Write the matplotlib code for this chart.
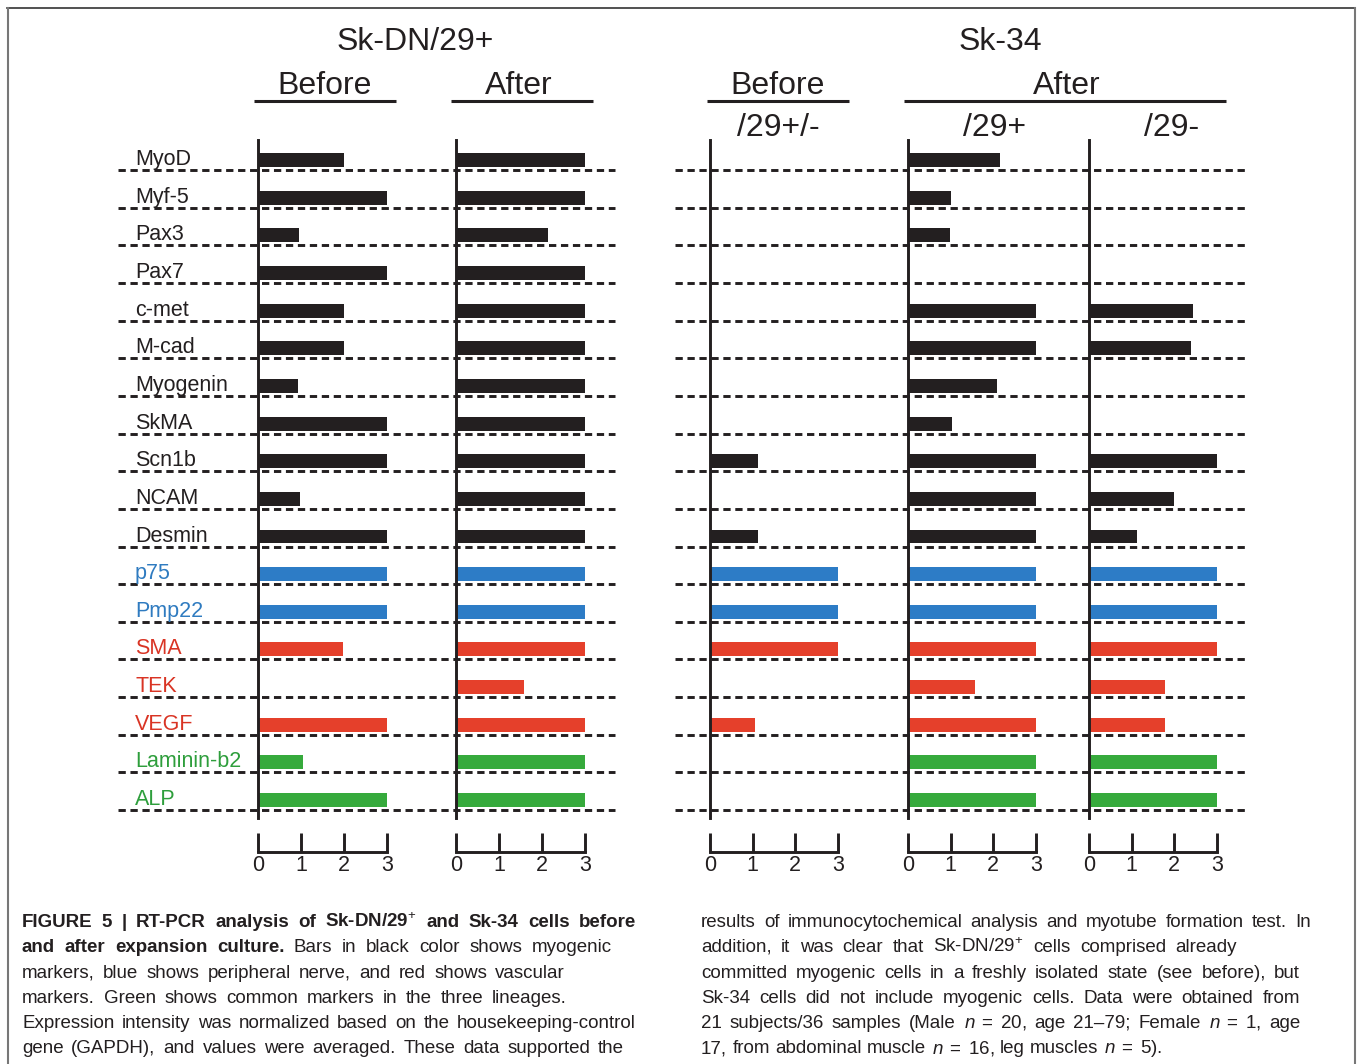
import matplotlib
matplotlib.use("Agg")
import matplotlib.pyplot as plt
from matplotlib import font_manager

W, H = 1357, 1064

plt.rcParams["font.family"] = "Liberation Sans"
plt.rcParams["mathtext.fontset"] = "custom"
plt.rcParams["mathtext.rm"] = "Liberation Sans"
plt.rcParams["mathtext.it"] = "Liberation Sans:italic"
plt.rcParams["mathtext.bf"] = "Liberation Sans:bold"

# --- data ---
markers = ["MyoD", "Myf-5", "Pax3", "Pax7", "c-met", "M-cad", "Myogenin", "SkMA",
           "Scn1b", "NCAM", "Desmin", "p75", "Pmp22", "SMA", "TEK", "VEGF",
           "Laminin-b2", "ALP"]
lineage = ["myo", "myo", "myo", "myo", "myo", "myo", "myo", "myo", "myo", "myo", "myo",
           "nerve", "nerve", "vasc", "vasc", "vasc", "common", "common"]

skdn_before = [2.0, 3.0, 0.95, 3.0, 2.0, 2.0, 0.93, 3.0, 3.0, 0.97, 3.0, 3.0, 3.0, 1.98, 0, 3.0, 1.05, 3.0]
skdn_after = [3.0, 3.0, 2.15, 3.0, 3.0, 3.0, 3.0, 3.0, 3.0, 3.0, 3.0, 3.0, 3.0, 3.0, 1.58, 3.0, 3.0, 3.0]
sk34_before = [0, 0, 0, 0, 0, 0, 0, 0, 1.12, 0, 1.12, 3.0, 3.0, 3.0, 0, 1.05, 0, 0]
sk34_after_pos = [2.15, 1.0, 0.98, 0, 3.0, 3.0, 2.08, 1.03, 3.0, 3.0, 3.0, 3.0, 3.0, 3.0, 1.57, 3.0, 3.0, 3.0]
sk34_after_neg = [0, 0, 0, 0, 2.43, 2.38, 0, 0, 3.0, 2.0, 1.12, 3.0, 3.0, 3.0, 1.78, 1.78, 3.0, 3.0]
scale_ticks = [0, 1, 2, 3]

bar_colors = {"myo": "#231f20", "nerve": "#2d7cc6", "vasc": "#e5402b", "common": "#36aa3c"}
text_colors = {"myo": "#231f20", "nerve": "#2f7bc0", "vasc": "#d93424", "common": "#2e9e3c"}
DARK = "#231f20"

panels = [skdn_before, skdn_after, sk34_before, sk34_after_pos, sk34_after_neg]
panel_px = [(258, 387), (456, 585), (710, 838), (908, 1036), (1089, 1217)]

# row geometry (pixels)
ROW0, STEP = 170, 37.65
AX_TOP, AX_BOT = 140, 818


def row_px(i):
    return ROW0 + STEP * i


fig = plt.figure(figsize=(W / 100, H / 100), dpi=100)
bg = fig.add_axes([0, 0, 1, 1])
bg.set_xlim(0, W)
bg.set_ylim(H, 0)
bg.axis("off")

# frame
bg.plot([7, 1355], [8.3, 8.3], color="#333333", lw=1.2)
bg.plot([7.5, 7.5], [8, H], color="#777777", lw=1.5)
bg.plot([1355, 1355], [8, H], color="#777777", lw=1.5)

# dashed row lines
for i in range(len(markers)):
    y = row_px(i)
    for xa, xb in [(118, 615), (675, 1247)]:
        bg.plot([xa, xb], [y, y], color=DARK, lw=2.1, linestyle=(0, (2.5, 1.6)),
                dash_capstyle="butt", zorder=1)
    bg.text(135, y - 5, markers[i], fontsize=15.5, color=text_colors[lineage[i]],
            ha="left", va="baseline")

# headers
hdr = dict(fontsize=23, ha="center", va="baseline", color=DARK)
bg.text(415, 50, "Sk-DN/29+", **hdr)
bg.text(1000, 50, "Sk-34", **hdr)
bg.text(325, 94, "Before", **hdr)
bg.text(519, 94, "After", **hdr)
bg.text(778, 94, "Before", **hdr)
bg.text(1067, 94, "After", **hdr)
bg.text(778, 136, "/29+/-", **hdr)
bg.text(995, 136, "/29+", **hdr)
bg.text(1172, 136, "/29-", **hdr)
for xa, xb in [(254, 396), (451, 593), (707, 849), (904, 1226)]:
    bg.plot([xa, xb], [101, 101], color=DARK, lw=2.2, solid_capstyle="butt")

# bar panels
ylo = (AX_BOT - (ROW0 - 10)) / STEP
yhi = (AX_TOP - (ROW0 - 10)) / STEP
for vals, (x0, x1) in zip(panels, panel_px):
    ax = fig.add_axes([x0 / W, 1 - AX_BOT / H, (x1 - x0) / W, (AX_BOT - AX_TOP) / H])
    ax.patch.set_visible(False)
    ax.barh(range(len(markers)), vals, height=0.37,
            color=[bar_colors[g] for g in lineage], zorder=2)
    ax.set_xlim(0, 3)
    ax.set_ylim(ylo, yhi)
    ax.spines["top"].set_visible(False)
    ax.spines["right"].set_visible(False)
    ax.spines["left"].set_linewidth(2.1)
    ax.spines["left"].set_color(DARK)
    ax.spines["left"].set_zorder(3)
    ax.spines["bottom"].set_position(("outward", 24.5))
    ax.spines["bottom"].set_linewidth(2.1)
    ax.spines["bottom"].set_color(DARK)
    ax.set_yticks([])
    ax.set_xticks(scale_ticks)
    ax.set_xticklabels([str(t) for t in scale_ticks])
    ax.tick_params(axis="x", direction="in", length=13.7, width=2.1, pad=2,
                   labelsize=15.5, color=DARK, labelcolor=DARK)

# caption
names = {f.name for f in font_manager.fontManager.ttflist}
cap_font = "Liberation Sans Narrow" if "Liberation Sans Narrow" in names else "Liberation Sans"
cap_fs = 15.5 if cap_font == "Liberation Sans Narrow" else 13.5

cap_left = [
    "FIGURE 5 | RT-PCR analysis of Sk-DN/29$^{+}$ and Sk-34 cells before",
    "and after expansion culture. Bars in black color shows myogenic",
    "markers, blue shows peripheral nerve, and red shows vascular",
    "markers. Green shows common markers in the three lineages.",
    "Expression intensity was normalized based on the housekeeping-control",
    "gene (GAPDH), and values were averaged. These data supported the",
]
cap_left_bold = [12, 4, 0, 0, 0, 0]
cap_right = [
    "results of immunocytochemical analysis and myotube formation test. In",
    "addition, it was clear that Sk-DN/29$^{+}$ cells comprised already",
    "committed myogenic cells in a freshly isolated state (see before), but",
    "Sk-34 cells did not include myogenic cells. Data were obtained from",
    "21 subjects/36 samples (Male $n\\;=\\;20$, age 21\u201379; Female $n\\;=\\;1$, age",
    "17, from abdominal muscle $n\\;=\\;16$, leg muscles $n\\;=\\;5$).",
]
cap_left_ends = [636, 612, 565, 567, 636, 624]
cap_right_ends = [1311, 1237, 1300, 1300, 1300, None]
cap_base = [927, 952, 978, 1003, 1028, 1053]

renderer = fig.canvas.get_renderer()


def put_line(line, nbold, x0, x1, y):
    words = line.split(" ")
    arts = [bg.text(0, y, w, fontsize=cap_fs, family=cap_font, color=DARK,
                    fontweight="bold" if k < nbold else "normal",
                    ha="left", va="baseline") for k, w in enumerate(words)]
    widths = [a.get_window_extent(renderer).width for a in arts]
    if x1 is None or len(words) < 2:
        gap = cap_fs * 0.4
    else:
        gap = max((x1 - x0 - sum(widths)) / (len(words) - 1), cap_fs * 0.2)
    x = x0
    for a, wd in zip(arts, widths):
        a.set_x(x)
        x += wd + gap


for k in range(len(cap_left)):
    put_line(cap_left[k], cap_left_bold[k], 22, cap_left_ends[k], cap_base[k])
    put_line(cap_right[k], 0, 701, cap_right_ends[k], cap_base[k])

fig.savefig("out.png", dpi=100, facecolor="white")
